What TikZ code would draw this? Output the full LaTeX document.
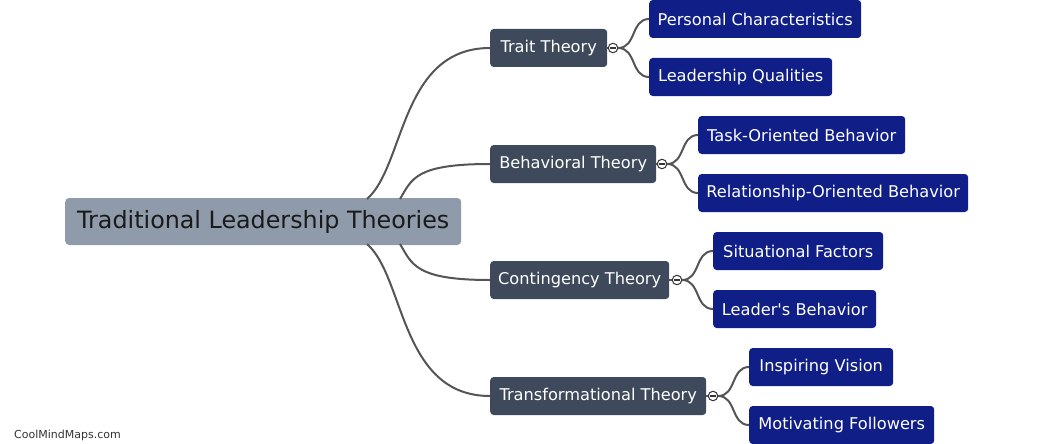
\documentclass[tikz,border=0pt]{standalone}
\usepackage{fontspec}
\setmainfont{DejaVu Sans}
\definecolor{rootfill}{HTML}{8F9BAA}
\definecolor{midfill}{HTML}{3E4A5B}
\definecolor{leaffill}{HTML}{0F1F87}
\definecolor{edgecol}{HTML}{555555}
\definecolor{rootText}{HTML}{1A1A1A}
\begin{document}
\begin{tikzpicture}[x=1pt,y=-1pt,
  rootbox/.style={fill=rootfill,rounded corners=4pt,anchor=west,inner sep=0pt,
    minimum height=47pt,text=rootText,font=\fontsize{23.8}{26}\selectfont},
  midbox/.style={fill=midfill,rounded corners=3.5pt,anchor=west,inner sep=0pt,
    minimum height=38pt,text=white,font=\fontsize{16.2}{19}\selectfont},
  leafbox/.style={fill=leaffill,rounded corners=3.5pt,anchor=west,inner sep=0pt,
    minimum height=38pt,text=white,font=\fontsize{16.2}{19}\selectfont},
  link/.style={draw=edgecol,line width=2pt},
  collapse/.style={circle,draw=black!80,line width=1pt,fill=white,inner sep=0pt,minimum size=9.5pt,
    path picture={\draw[line width=1.2pt,black!80] ([xshift=-2.6pt]path picture bounding box.center) -- ([xshift=2.6pt]path picture bounding box.center);}}
]
\useasboundingbox[fill=white] (0,0) rectangle (1046,444);

% root
\node[rootbox,minimum width=396pt] (root) at (65,221.5) {Traditional Leadership Theories};
\coordinate (r1) at (367,199);
\coordinate (r2) at (400,199);
\coordinate (r3) at (400,244);
\coordinate (r4) at (367,244);

% level 1
\node[midbox,minimum width=117pt] (trait) at (490,48) {Trait Theory};
\node[midbox,minimum width=166pt] (behav) at (490,164) {Behavioral Theory};
\node[midbox,minimum width=179pt] (conti) at (490,280) {Contingency Theory};
\node[midbox,minimum width=216pt] (trans) at (490,396) {Transformational Theory};

% level 2
\node[leafbox,minimum width=212pt] (pc) at (649,19) {Personal Characteristics};
\node[leafbox,minimum width=183pt] (lq) at (649,77) {Leadership Qualities};
\node[leafbox,minimum width=207pt] (tob) at (698,135) {Task-Oriented Behavior};
\node[leafbox,minimum width=270pt] (rob) at (698,193) {Relationship-Oriented Behavior};
\node[leafbox,minimum width=170pt] (sf) at (713,251) {Situational Factors};
\node[leafbox,minimum width=163pt] (lb) at (713,309) {Leader\textquotesingle s Behavior};
\node[leafbox,minimum width=144pt] (iv) at (749,367) {Inspiring Vision};
\node[leafbox,minimum width=185pt] (mf) at (749,425) {Motivating Followers};

% edges root -> level 1
\draw[link] (r1) .. controls +(38,-33) and +(-90,0) .. (trait.west);
\draw[link] (r2) .. controls +(12,-20) and +(-75,0) .. (behav.west);
\draw[link] (r3) .. controls +(12,20) and +(-75,0) .. (conti.west);
\draw[link] (r4) .. controls +(38,33) and +(-90,0) .. (trans.west);

% collapse circles
\node[collapse] (c1) at (613,48) {};
\node[collapse] (c2) at (662,164) {};
\node[collapse] (c3) at (677,280) {};
\node[collapse] (c4) at (713,396) {};
\draw[link] (trait.east) -- (c1.west);
\draw[link] (behav.east) -- (c2.west);
\draw[link] (conti.east) -- (c3.west);
\draw[link] (trans.east) -- (c4.west);

% edges level 1 -> level 2
\draw[link] (c1.east) .. controls +(18,0) and +(-18,0) .. (pc.west);
\draw[link] (c1.east) .. controls +(18,0) and +(-18,0) .. (lq.west);
\draw[link] (c2.east) .. controls +(18,0) and +(-18,0) .. (tob.west);
\draw[link] (c2.east) .. controls +(18,0) and +(-18,0) .. (rob.west);
\draw[link] (c3.east) .. controls +(18,0) and +(-18,0) .. (sf.west);
\draw[link] (c3.east) .. controls +(18,0) and +(-18,0) .. (lb.west);
\draw[link] (c4.east) .. controls +(18,0) and +(-18,0) .. (iv.west);
\draw[link] (c4.east) .. controls +(18,0) and +(-18,0) .. (mf.west);

% watermark
\node[anchor=west,inner sep=0pt,text=black!80,font=\fontsize{11}{13}\selectfont] (wm) at (14,435) {CoolMindMaps.com};
\end{tikzpicture}
\end{document}
